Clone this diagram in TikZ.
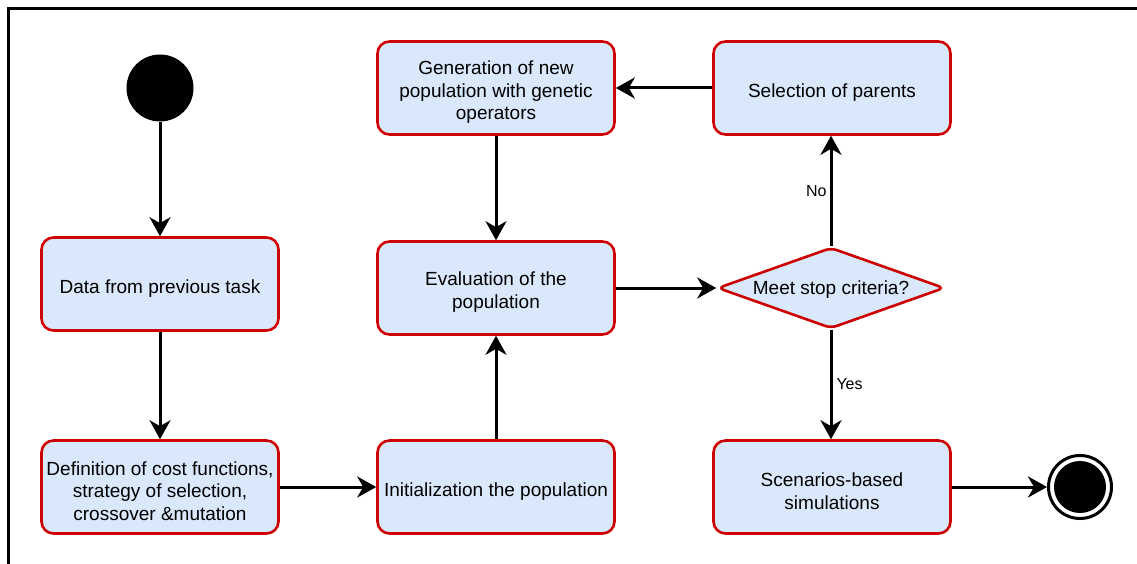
\documentclass[tikz,border=0pt]{standalone}
\usepackage{fontspec}
\setmainfont{Liberation Sans}
\usetikzlibrary{arrows.meta,shapes.geometric}
\definecolor{boxfill}{HTML}{DAE8FC}
\definecolor{boxline}{HTML}{CC0000}
\newcommand{\topstrut}{\rule{0pt}{22pt}}
\tikzset{
  stepbox/.style={rectangle, rounded corners=12pt, draw=boxline, fill=boxfill, line width=2.6pt,
    minimum width=237pt, minimum height=93pt, inner sep=2pt, align=center,
    font=\fontsize{19}{22.5}\selectfont},
  decbox/.style={diamond, aspect=2.74, rounded corners=6pt, draw=boxline, fill=boxfill, line width=2.6pt,
    minimum width=227pt, minimum height=81pt, inner sep=0pt,
    font=\fontsize{19}{22.5}\selectfont, execute at begin node={\rule{0pt}{17pt}}},
  flow/.style={line width=3pt, -{Stealth[length=19pt,width=21pt,inset=6pt]}},
  elabel/.style={font=\fontsize{16}{19}\selectfont, inner sep=0pt}
}
\begin{document}
\begin{tikzpicture}[x=1pt,y=-1pt]
\useasboundingbox (0,0) rectangle (1137,564);
\begin{scope}
\clip (0,0) rectangle (1137,564);
\draw[line width=3pt] (8.5,8.5) rectangle (1250,700);
\end{scope}

\node[circle, fill=black, minimum size=67pt, inner sep=0pt] (start) at (160,88) {};
\node[stepbox] (data) at (160,284) {\topstrut Data from previous task};
\node[stepbox] (def) at (160,487) {\topstrut Definition of cost functions,\\strategy of selection,\\crossover \&mutation};
\node[stepbox] (init) at (496,487) {\topstrut Initialization the population};
\node[stepbox] (eval) at (496,288) {\topstrut Evaluation of the\\population};
\node[stepbox] (gen) at (496,88) {\topstrut Generation of new\\population with genetic\\operators};
\node[stepbox] (sel) at (832,88) {\topstrut Selection of parents};
\node[decbox] (dec) at (831,288) {Meet stop criteria?};
\node[stepbox] (scen) at (832,487) {\topstrut Scenarios-based\\simulations};
\node[circle, draw=black, line width=3pt, minimum size=63pt, inner sep=0pt] (end) at (1080,487) {};
\fill[black] (end.center) circle (26pt);

\draw[flow] (start) -- (data);
\draw[flow] (data) -- (def);
\draw[flow] (def) -- (init);
\draw[flow] (init) -- (eval);
\draw[flow] (gen) -- (eval);
\draw[flow] (eval.east) -- (dec.west);
\draw[flow] (dec.north) -- node[elabel, anchor=east, xshift=-3pt] (no) {No} (sel.south -| dec.north);
\draw[flow] (sel) -- (gen);
\draw[flow] (dec.south) -- node[elabel, anchor=west, xshift=4pt] (yes) {Yes} (scen.north -| dec.south);
\draw[flow] (scen) -- (end);
\end{tikzpicture}
\end{document}
